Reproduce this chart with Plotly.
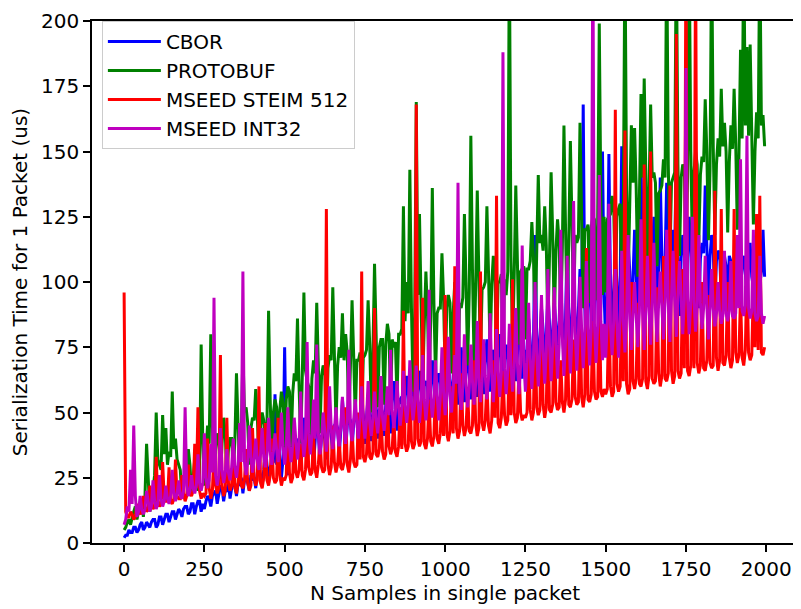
import plotly.graph_objects as go

# sample counts (x): main readings every 10 samples, in-between readings offset by 5
n_main = list(range(0, 2000, 10))
n_mid = list(range(5, 2000, 10))

# ---- CBOR ----
cbor_main = (
    [2, 3, 4, 6, 4, 7, 5, 8, 6, 9, 6, 10, 7, 11, 8, 12, 9, 13, 10, 14, 11, 15, 11, 16, 12]
    + [13, 18, 14, 19, 15, 22, 16, 20, 17, 24, 18, 22, 19, 26, 20, 24, 21, 28, 22, 38, 23, 30, 57, 40, 25]
    + [75, 26, 45, 27, 40, 28, 48, 29, 44, 30, 50, 31, 42, 32, 52, 33, 46, 34, 55, 35, 48, 36, 50, 37, 54]
    + [38, 56, 39, 60, 40, 52, 41, 58, 42, 62, 43, 55, 44, 64, 45, 60, 46, 66, 47, 62, 48, 70, 49, 65, 50]
    + [51, 68, 52, 72, 53, 75, 54, 70, 55, 76, 56, 72, 57, 78, 58, 74, 59, 80, 60, 76, 61, 82, 62, 84, 63]
    + [64, 86, 65, 118, 66, 90, 67, 96, 68, 92, 69, 100, 70, 116, 71, 98, 72, 105, 168, 73, 100, 74, 108, 75, 150]
    + [76, 149, 77, 110, 78, 152, 79, 115, 80, 120, 81, 149, 82, 118, 83, 125, 84, 140, 85, 138, 86, 120, 150, 87, 118]
    + [88, 125, 89, 120, 90, 115, 137, 91, 118, 92, 112, 93, 110, 94, 108, 95, 113, 96, 110, 97, 115, 98, 112, 99, 120]
)
cbor_mid = (
    [3, 5, 4, 6, 5, 8, 6, 7, 8, 9, 7, 10, 9, 11, 10, 12, 11, 12, 13, 14, 12, 15, 14, 16, 15]
    + [16, 17, 18, 20, 19, 21, 20, 23, 21, 22, 23, 25, 24, 23, 26, 25, 27, 26, 28, 30, 29, 31, 30, 33, 32]
    + [34, 33, 36, 35, 37, 36, 39, 38, 40, 39, 42, 41, 40, 43, 42, 45, 44, 43, 46, 45, 47, 46, 48, 47, 49]
    + [48, 50, 49, 52, 51, 50, 53, 52, 55, 54, 53, 56, 55, 58, 57, 56, 59, 58, 61, 60, 59, 62, 61, 63, 62]
    + [62, 61, 64, 66, 63, 65, 67, 64, 66, 68, 65, 67, 70, 68, 69, 71, 70, 72, 71, 70, 73, 74, 72, 75, 74]
    + [75, 77, 76, 80, 78, 82, 79, 84, 81, 83, 85, 84, 86, 88, 87, 86, 89, 92, 90, 88, 93, 91, 95, 92, 96]
    + [95, 98, 97, 100, 99, 102, 100, 104, 101, 103, 105, 102, 106, 104, 107, 108, 106, 109, 108, 110, 107, 111, 110, 109, 112]
    + [110, 112, 108, 113, 109, 111, 114, 110, 112, 108, 111, 109, 106, 110, 104, 108, 105, 107, 103, 106, 102, 105, 100, 104, 102]
)

# ---- PROTOBUF ----
protobuf_main = (
    [5, 8, 7, 12, 9, 14, 10, 38, 12, 20, 50, 30, 49, 44, 35, 58, 40, 30, 17, 28, 36, 19, 32, 20, 76]
    + [22, 45, 80, 24, 42, 25, 48, 26, 40, 27, 65, 28, 73, 52, 30, 48, 59, 31, 50, 32, 89, 33, 55, 34, 58]
    + [35, 60, 36, 65, 86, 38, 96, 62, 40, 70, 92, 42, 68, 43, 72, 98, 45, 75, 88, 80, 46, 93, 48, 70, 49]
    + [72, 93, 50, 107, 52, 78, 53, 84, 54, 75, 55, 80, 129, 100, 143, 58, 169, 126, 60, 104, 62, 136, 63, 90, 111]
    + [64, 95, 65, 100, 66, 90, 126, 68, 156, 69, 135, 70, 98, 129, 72, 110, 73, 100, 74, 95, 230, 75, 137, 76, 105]
    + [78, 105, 123, 80, 141, 118, 129, 82, 142, 84, 124, 85, 160, 86, 154, 88, 115, 161, 90, 120, 92, 125, 93, 199, 95]
    + [96, 125, 133, 98, 128, 99, 230, 100, 160, 159, 102, 172, 178, 104, 168, 142, 106, 135, 147, 230, 108, 140, 230, 110, 145]
    + [112, 230, 114, 150, 115, 148, 170, 116, 230, 118, 155, 174, 161, 119, 160, 174, 120, 189, 230, 190, 191, 122, 165, 230, 164]
)
protobuf_mid = (
    [6, 9, 10, 14, 12, 16, 18, 22, 15, 26, 32, 28, 34, 30, 33, 36, 32, 28, 24, 26, 30, 25, 28, 27, 40]
    + [35, 38, 45, 36, 40, 38, 42, 36, 40, 39, 45, 42, 50, 46, 44, 47, 48, 45, 47, 46, 55, 50, 52, 51, 54]
    + [55, 58, 57, 62, 60, 64, 66, 60, 63, 65, 68, 64, 66, 67, 70, 72, 68, 71, 70, 73, 68, 72, 70, 73, 71]
    + [74, 76, 73, 80, 75, 78, 76, 80, 78, 77, 80, 82, 85, 88, 90, 86, 95, 92, 84, 88, 85, 92, 88, 90, 94]
    + [90, 92, 88, 95, 92, 94, 100, 96, 105, 98, 102, 97, 100, 104, 99, 102, 100, 103, 101, 104, 110, 102, 108, 104, 106]
    + [105, 108, 110, 107, 115, 112, 114, 110, 118, 112, 115, 113, 120, 116, 122, 118, 117, 125, 120, 122, 121, 124, 122, 130, 125]
    + [124, 126, 128, 125, 130, 127, 135, 130, 138, 136, 132, 140, 142, 135, 140, 138, 134, 137, 140, 145, 138, 142, 145, 140, 143]
    + [140, 150, 142, 145, 141, 146, 150, 143, 152, 145, 148, 152, 150, 146, 151, 153, 148, 155, 160, 156, 158, 150, 155, 160, 152]
)

# ---- MSEED STEIM 512 ----
steim_main = (
    [96, 10, 12, 9, 15, 11, 18, 12, 22, 13, 33, 14, 31, 16, 29, 15, 32, 17, 26, 16, 30, 18, 38, 52, 17]
    + [18, 40, 17, 35, 19, 72, 18, 48, 20, 38, 19, 42, 21, 36, 20, 44, 22, 60, 21, 46, 22, 40, 23, 48, 22]
    + [24, 50, 23, 44, 25, 38, 24, 46, 26, 42, 25, 40, 27, 128, 26, 45, 27, 40, 28, 52, 27, 44, 29, 50, 104]
    + [31, 48, 32, 90, 33, 50, 32, 56, 34, 48, 33, 52, 89, 35, 60, 36, 168, 37, 94, 36, 55, 37, 62, 38, 58]
    + [95, 39, 60, 106, 40, 65, 41, 58, 42, 70, 41, 104, 43, 62, 42, 70, 133, 44, 66, 45, 72, 101, 46, 68, 47]
    + [48, 75, 47, 88, 49, 92, 48, 84, 50, 95, 51, 70, 50, 88, 52, 78, 53, 90, 52, 113, 54, 85, 55, 96, 56]
    + [57, 90, 56, 166, 58, 95, 158, 57, 100, 59, 92, 60, 145, 59, 150, 61, 98, 60, 110, 62, 137, 61, 195, 63, 105]
    + [230, 64, 110, 230, 65, 100, 66, 95, 67, 135, 66, 128, 68, 100, 67, 128, 69, 95, 68, 105, 70, 98, 126, 133, 72]
)
steim_mid = (
    [12, 10, 11, 10, 13, 12, 14, 13, 15, 14, 16, 15, 17, 16, 16, 17, 18, 17, 19, 18, 19, 20, 21, 20, 19]
    + [19, 21, 20, 22, 21, 22, 20, 23, 22, 21, 23, 22, 24, 23, 22, 25, 24, 23, 25, 24, 26, 25, 24, 26, 25]
    + [26, 27, 25, 27, 28, 26, 28, 29, 27, 28, 30, 29, 28, 30, 29, 31, 30, 29, 31, 30, 32, 31, 30, 32, 33]
    + [34, 33, 35, 34, 36, 35, 34, 37, 36, 35, 37, 36, 38, 37, 39, 38, 40, 39, 38, 40, 39, 41, 40, 42, 41]
    + [42, 43, 42, 44, 43, 45, 44, 43, 45, 46, 44, 46, 47, 45, 47, 48, 46, 48, 49, 47, 49, 50, 48, 50, 49]
    + [50, 51, 50, 52, 51, 53, 52, 51, 53, 54, 52, 54, 55, 53, 55, 56, 54, 56, 57, 55, 57, 58, 56, 58, 59]
    + [59, 60, 58, 61, 60, 62, 61, 59, 62, 63, 61, 63, 62, 64, 63, 62, 65, 64, 63, 65, 66, 64, 66, 65, 67]
    + [66, 68, 67, 69, 68, 67, 70, 69, 68, 71, 70, 69, 72, 71, 70, 73, 72, 71, 74, 73, 72, 75, 74, 73, 75]
)

# ---- MSEED INT32 ----
int32_main = (
    [7, 14, 28, 45, 10, 18, 11, 20, 12, 24, 13, 26, 14, 22, 15, 28, 16, 24, 17, 52, 18, 26, 19, 34, 20]
    + [42, 21, 38, 94, 22, 44, 23, 36, 24, 40, 25, 46, 104, 26, 45, 27, 40, 28, 44, 29, 48, 30, 42, 31, 50]
    + [30, 52, 31, 48, 32, 58, 33, 77, 34, 55, 76, 34, 50, 35, 60, 36, 52, 37, 56, 38, 74, 39, 55, 40, 60]
    + [40, 62, 41, 58, 42, 64, 43, 60, 74, 44, 62, 45, 66, 46, 70, 47, 68, 46, 72, 47, 97, 48, 70, 47, 75]
    + [49, 79, 50, 72, 138, 51, 80, 52, 76, 53, 85, 54, 78, 55, 88, 54, 82, 56, 188, 57, 84, 58, 90, 57, 114]
    + [58, 92, 59, 100, 60, 95, 61, 105, 62, 98, 63, 120, 64, 110, 65, 131, 66, 102, 67, 108, 68, 230, 69, 141, 70]
    + [71, 130, 72, 105, 71, 112, 73, 118, 74, 100, 75, 124, 74, 110, 76, 115, 77, 104, 78, 120, 77, 112, 79, 108, 80]
    + [182, 80, 125, 81, 118, 82, 110, 78, 105, 83, 100, 84, 112, 85, 108, 86, 118, 147, 87, 156, 86, 120, 85, 110, 84]
)
int32_mid = (
    [9, 12, 15, 18, 12, 13, 13, 15, 14, 16, 15, 17, 16, 17, 18, 19, 19, 18, 20, 22, 20, 21, 22, 23, 23]
    + [25, 24, 27, 26, 26, 28, 27, 27, 29, 29, 30, 31, 31, 31, 33, 32, 32, 34, 33, 34, 35, 35, 36, 36, 37]
    + [36, 37, 37, 39, 38, 40, 39, 42, 41, 40, 42, 40, 43, 41, 44, 43, 42, 45, 44, 46, 45, 47, 46, 48, 47]
    + [47, 46, 48, 47, 49, 48, 50, 49, 51, 50, 52, 51, 53, 52, 54, 53, 55, 54, 55, 54, 56, 55, 57, 56, 58]
    + [57, 56, 59, 61, 58, 60, 61, 59, 62, 61, 63, 62, 64, 63, 65, 64, 66, 65, 67, 66, 68, 67, 69, 68, 70]
    + [69, 71, 70, 73, 72, 74, 73, 76, 75, 77, 76, 79, 78, 80, 79, 81, 80, 82, 81, 83, 82, 84, 83, 85, 84]
    + [84, 83, 85, 84, 86, 85, 87, 86, 88, 87, 89, 88, 90, 89, 91, 90, 92, 91, 93, 92, 94, 93, 95, 94, 93]
    + [94, 92, 93, 91, 92, 90, 91, 89, 90, 88, 89, 87, 88, 89, 87, 88, 90, 89, 91, 90, 89, 88, 87, 88, 87]
)

series_names = ["CBOR", "PROTOBUF", "MSEED STEIM 512", "MSEED INT32"]
series_main = [cbor_main, protobuf_main, steim_main, int32_main]
series_mid = [cbor_mid, protobuf_mid, steim_mid, int32_mid]
series_colors = ["#0000ff", "#008000", "#ff0000", "#bf00bf"]

x_ticks = [0, 250, 500, 750, 1000, 1250, 1500, 1750, 2000]
y_ticks = [0, 25, 50, 75, 100, 125, 150, 175, 200]

FONT = "DejaVu Sans"
FS = 20

fig = go.Figure()
for name, main, mid, col in zip(series_names, series_main, series_mid, series_colors):
    assert len(main) == len(n_main) and len(mid) == len(n_mid), (name, len(main), len(mid))
    xs, ys = [], []
    for xa, ya, xb, yb in zip(n_main, main, n_mid, mid):
        xs += [xa, xb]
        ys += [ya, yb]
    fig.add_trace(go.Scatter(
        x=xs, y=ys, mode="lines", name=name,
        legendgroup=name,
        line=dict(color=col, width=3.0),
    ))

fig.update_layout(
    width=793, height=601,
    margin=dict(l=84, r=1, t=6, b=66),
    paper_bgcolor="white", plot_bgcolor="white",
    font=dict(family=FONT, size=FS, color="black"),
    showlegend=True,
    legend=dict(
        x=0.014, y=1.0, xanchor="left", yanchor="top",
        bgcolor="rgba(255,255,255,0.85)", bordercolor="#cccccc", borderwidth=1,
        font=dict(family=FONT, size=FS, color="black"),
        tracegroupgap=0, itemwidth=53,
    ),
)
fig.update_xaxes(
    range=[-100, 2099], tickvals=x_ticks, ticktext=[str(t) for t in x_ticks],
    showline=True, mirror=True, linecolor="black", linewidth=1.5,
    ticks="outside", ticklen=7, tickwidth=1.5, tickcolor="black",
    showgrid=False, zeroline=False, ticklabeloverflow="allow",
    tickfont=dict(family=FONT, size=FS),
    title=dict(text="N Samples in single packet", font=dict(family=FONT, size=FS), standoff=6),
)
fig.update_yaxes(
    range=[0, 200], tickvals=y_ticks, ticktext=[str(t) for t in y_ticks],
    showline=True, mirror=True, linecolor="black", linewidth=1.5,
    ticks="outside", ticklen=7, tickwidth=1.5, tickcolor="black",
    showgrid=False, zeroline=False, ticklabeloverflow="allow",
    tickfont=dict(family=FONT, size=FS),
    title=dict(text="Serialization Time for 1 Packet (us)", font=dict(family=FONT, size=FS), standoff=8),
)

fig.write_html("out.html")
